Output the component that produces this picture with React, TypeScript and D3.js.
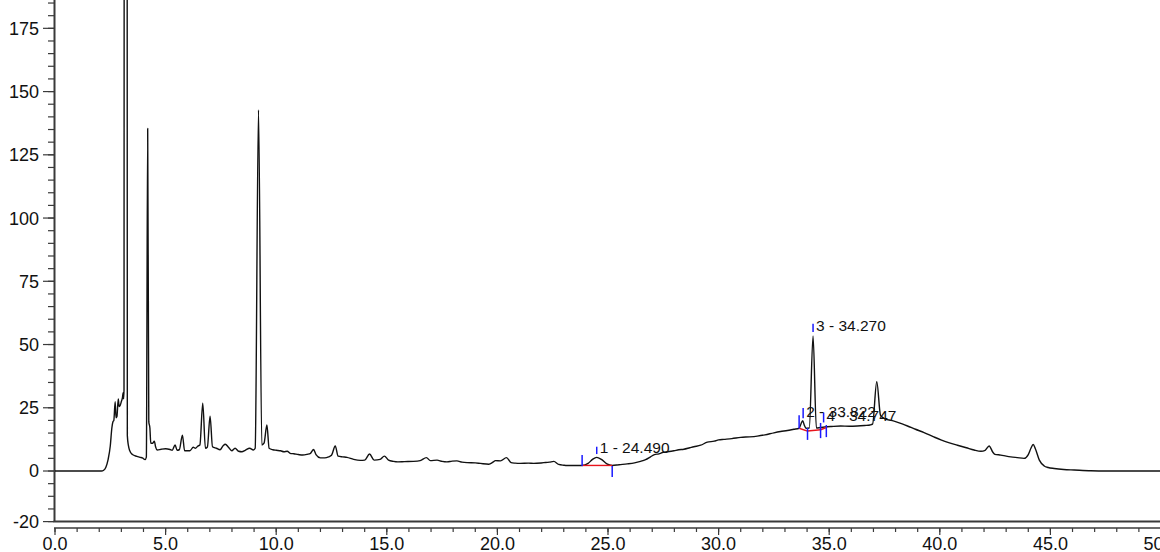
import React from "react";
import * as d3 from "d3";

// Chromatogram signal (retention time in min, signal)
const TIMES = [
  0, 2.1, 2.2, 2.3, 2.4, 2.5, 2.57, 2.62, 2.66, 2.72, 2.76, 2.8, 2.86, 2.9, 2.95, 3.0, 3.05, 3.08, 3.1, 3.12,
  3.195, 3.27, 3.32, 3.38, 3.5, 3.7, 3.85, 3.95, 4.07, 4.13, 4.19, 4.24, 4.29, 4.33, 4.42, 4.49, 4.55, 4.62,
  4.8, 5.0, 5.2, 5.3, 5.43, 5.52, 5.62, 5.76, 5.86, 6.1, 6.25, 6.35, 6.45, 6.55, 6.68, 6.8, 6.89, 7.01, 7.12,
  7.3, 7.46, 7.6, 7.7, 7.84, 7.99, 8.14, 8.3, 8.45, 8.6, 8.8, 8.97, 9.05, 9.2, 9.35, 9.45, 9.58, 9.68, 9.85,
  10.0, 10.2, 10.35, 10.5, 10.63, 10.8, 11.0, 11.2, 11.4, 11.55, 11.69, 11.8, 12.0, 12.2, 12.37, 12.5, 12.67,
  12.8, 13.0, 13.2, 13.5, 13.8, 14.0, 14.22, 14.43, 14.7, 14.89, 15.08, 15.3, 15.5, 15.8, 16.2, 16.51, 16.79,
  16.97, 17.27, 17.5, 17.72, 17.95, 18.17, 18.4, 18.63, 19.0, 19.23, 19.61, 19.8, 19.91, 20.14, 20.41, 20.62,
  20.8, 21.04, 21.4, 21.64, 22.1, 22.35, 22.55, 22.77, 23.0, 23.15, 23.5, 23.83, 24.1, 24.3, 24.49, 24.7,
  24.95, 25.19, 25.5, 25.87, 26.2, 26.47, 26.7, 26.92, 27.1, 27.3, 27.5, 27.68, 27.98, 28.2, 28.43, 28.7,
  28.88, 29.19, 29.49, 29.8, 30.0, 30.24, 30.6, 31.0, 31.4, 31.75, 32.1, 32.5, 32.8, 33.11, 33.4, 33.64,
  33.72, 33.8, 33.88, 33.95, 34.1, 34.27, 34.42, 34.6, 34.8, 35.1, 35.52, 35.9, 36.27, 36.6, 36.85, 36.96,
  37.15, 37.32, 37.45, 37.55, 37.8, 38.0, 38.3, 38.54, 38.9, 39.29, 39.7, 40.05, 40.4, 40.8, 41.2, 41.55,
  41.86, 42.05, 42.23, 42.4, 42.49, 42.76, 43.0, 43.21, 43.5, 43.81, 44.0, 44.12, 44.22, 44.32, 44.5, 44.72,
  44.9, 45.17, 45.6, 46.08, 46.83, 47.5, 50,
];
const SIGNAL = [
  0, 0, 0.3, 1.5, 4.5, 10, 17, 19.5, 20, 27.4, 21, 21.5, 28.5, 25.5, 26, 27.5, 29, 31, 28.5, 32,
  2000, 14, 10, 8, 6.5, 5.8, 5.4, 5.2, 4.5, 5.5, 135.4, 19.5, 17, 11, 11, 11.8, 9.5, 8.3,
  8.6, 8.8, 8.5, 8.2, 10.3, 8.2, 8.4, 14.2, 8, 8, 9.4, 9, 9.8, 10.3, 26.8, 9, 9.5, 21.7, 9.6,
  9, 8.4, 10, 10.6, 9.4, 8, 9, 7.8, 7.6, 8.2, 9, 8.3, 9, 142.7, 10.3, 11, 18.2, 9, 8.4,
  8.2, 8, 7.6, 7.8, 7, 6.8, 6.5, 6.3, 6.6, 7, 8.5, 6.5, 5.2, 5.2, 5.6, 6.2, 9.9,
  5.9, 5.6, 5.4, 4.6, 4.2, 4.3, 6.7, 4.3, 4.6, 5.9, 4.3, 3.8, 3.6, 3.7, 3.8, 4.1, 5.3,
  4.1, 4.3, 3.8, 3.6, 3.9, 4, 3.5, 3.3, 3.2, 3.0, 2.7, 3.5, 4.1, 4, 5.3, 3.3,
  3.1, 3, 3.1, 3, 3.3, 3.5, 3.8, 2.6, 2.3, 2.2, 2.2, 2.2, 3, 4.6, 5.4, 4.6,
  2.8, 2.2, 2.5, 2.8, 3.2, 3.8, 4.5, 5.6, 6.5, 6.8, 7.4, 7.6, 8, 8.4, 8.6, 9.2,
  9.6, 10.2, 11.4, 11.8, 12.3, 12.5, 12.8, 13.3, 13.5, 13.8, 14.3, 15.1, 15.6, 16.0, 16.5, 16.9,
  18.5, 19.9, 18, 16.9, 17, 53.4, 17, 17.2, 17.4, 17.6, 17.8, 17.7, 17.8, 18, 18.2, 18.5,
  35.3, 22, 21, 20.5, 20, 19.5, 18.6, 17.8, 16.5, 15.2, 13.6, 12.3, 11.2, 10.2, 9.2, 8.3,
  7.8, 8.2, 9.9, 7.4, 6.6, 6.3, 5.9, 5.6, 5.3, 5.0, 6.5, 9, 10.5, 8.8, 4.3, 2.0,
  1.4, 1.0, 0.6, 0.4, 0.1, 0, 0,
];

// Integrated peaks
const PEAK_IDS = [1, 2, 3, 4];
const PEAK_RT = [24.49, 33.822, 34.27, 34.747];
const PEAK_RT_LABEL = ["24.490", "33.822", "34.270", "34.747"];
const PEAK_START = [23.83, 33.64, 34.02, 34.61];
const PEAK_END = [25.19, 34.02, 34.61, 34.9];
const BASE_START_V = [2.2, 16.9, 15.8, 16.3];
const BASE_END_V = [2.2, 15.8, 16.3, 17.3];
const APEX_TICK_LO = [6.7, 20.9, 55, 19.2];
const APEX_TICK_HI = [9.6, 24.9, 58.2, 23.1];

// Start / end integration markers
const MARKER_T = [23.83, 25.19, 33.64, 34.02, 34.61, 34.87];
const MARKER_LO = [2.0, -2.4, 16.8, 12.3, 13.0, 13.4];
const MARKER_HI = [6.3, 2.0, 22.0, 17.0, 19.0, 18.2];

// Axis ticks
const X_MAJOR = d3.range(0, 51, 5);
const X_MINOR = d3.range(0, 51, 1);
const Y_MAJOR = [-20, 0, 25, 50, 75, 100, 125, 150, 175];
const Y_MINOR = d3.range(-20, 186, 5);

const W = 1160;
const H = 552;

export default function App() {
  const x = d3.scaleLinear().domain([0, 50]).range([55, 1161]);
  const y = d3.scaleLinear().domain([-20, 186.2]).range([521.6, 0]);
  const pts: [number, number][] = TIMES.map((t, i) => [t, SIGNAL[i]]);
  const line = d3
    .line<[number, number]>()
    .x((d) => x(d[0]))
    .y((d) => y(d[1]))
    .curve(d3.curveMonotoneX);
  const font = "'Liberation Sans', Arial, sans-serif";
  const axisColor = "#3a3a3a";
  const x0 = x(0);
  const yBottom = y(-20);
  const xAxisY = 528;

  return (
    <div style={{ position: "absolute", left: 0, top: 0 }}>
      <svg width={W} height={H} style={{ display: "block", background: "#fff" }}>
        <defs>
          <clipPath id="plot">
            <rect x={x0} y={0} width={W - x0} height={yBottom} />
          </clipPath>
        </defs>

        {/* Y axis */}
        <line x1={x0 - 0.5} x2={x0 - 0.5} y1={0} y2={yBottom} stroke={axisColor} strokeWidth={2} />
        <line x1={x0 - 1.5} x2={W} y1={yBottom} y2={yBottom} stroke={axisColor} strokeWidth={2} />
        {Y_MINOR.map((v) => (
          <line key={"ym" + v} x1={x0 - 7} x2={x0 - 1} y1={y(v)} y2={y(v)} stroke={axisColor} strokeWidth={1.2} />
        ))}
        {Y_MAJOR.map((v) => (
          <g key={"yM" + v}>
            <line x1={x0 - 12} x2={x0 - 1} y1={y(v)} y2={y(v)} stroke={axisColor} strokeWidth={1.2} />
            <text x={39} y={y(v)} dy="0.36em" textAnchor="end" fontFamily={font} fontSize={18} fill="#111">
              {v}
            </text>
          </g>
        ))}

        {/* X axis */}
        <line x1={x0 - 1} x2={W} y1={xAxisY} y2={xAxisY} stroke={axisColor} strokeWidth={1.6} />
        {X_MINOR.map((t) => (
          <line key={"xm" + t} x1={x(t)} x2={x(t)} y1={xAxisY} y2={xAxisY + 4} stroke={axisColor} strokeWidth={1.2} />
        ))}
        {X_MAJOR.map((t) => (
          <g key={"xM" + t}>
            <line x1={x(t)} x2={x(t)} y1={xAxisY} y2={xAxisY + 7} stroke={axisColor} strokeWidth={1.2} />
            <text x={x(t)} y={549.5} textAnchor="middle" fontFamily={font} fontSize={18} fill="#111">
              {t.toFixed(1)}
            </text>
          </g>
        ))}

        {/* Signal */}
        <g clipPath="url(#plot)">
          <path d={line(pts) || ""} fill="none" stroke="#111" strokeWidth={1.4} strokeLinejoin="round" />

          {/* Baselines */}
          {PEAK_IDS.map((id, i) => (
            <line
              key={"b" + id}
              x1={x(PEAK_START[i])}
              x2={x(PEAK_END[i])}
              y1={y(BASE_START_V[i])}
              y2={y(BASE_END_V[i])}
              stroke="#e8141c"
              strokeWidth={1.4}
            />
          ))}

          {/* Markers */}
          {MARKER_T.map((t, i) => (
            <line
              key={"m" + i}
              x1={x(t)}
              x2={x(t)}
              y1={y(MARKER_LO[i])}
              y2={y(MARKER_HI[i])}
              stroke="#1a1aff"
              strokeWidth={1.5}
            />
          ))}
          {PEAK_IDS.map((id, i) => (
            <line
              key={"a" + id}
              x1={x(PEAK_RT[i])}
              x2={x(PEAK_RT[i])}
              y1={y(APEX_TICK_LO[i])}
              y2={y(APEX_TICK_HI[i])}
              stroke="#1a1aff"
              strokeWidth={1.5}
            />
          ))}

          {/* Peak labels */}
          {PEAK_IDS.map((id, i) => (
            <text
              key={"l" + id}
              x={x(PEAK_RT[i]) + 3}
              y={y(APEX_TICK_LO[i]) - 1}
              fontFamily={font}
              fontSize={15.5}
              fill="#111"
            >
              {`${id} - ${PEAK_RT_LABEL[i]}`}
            </text>
          ))}
        </g>
      </svg>
    </div>
  );
}
